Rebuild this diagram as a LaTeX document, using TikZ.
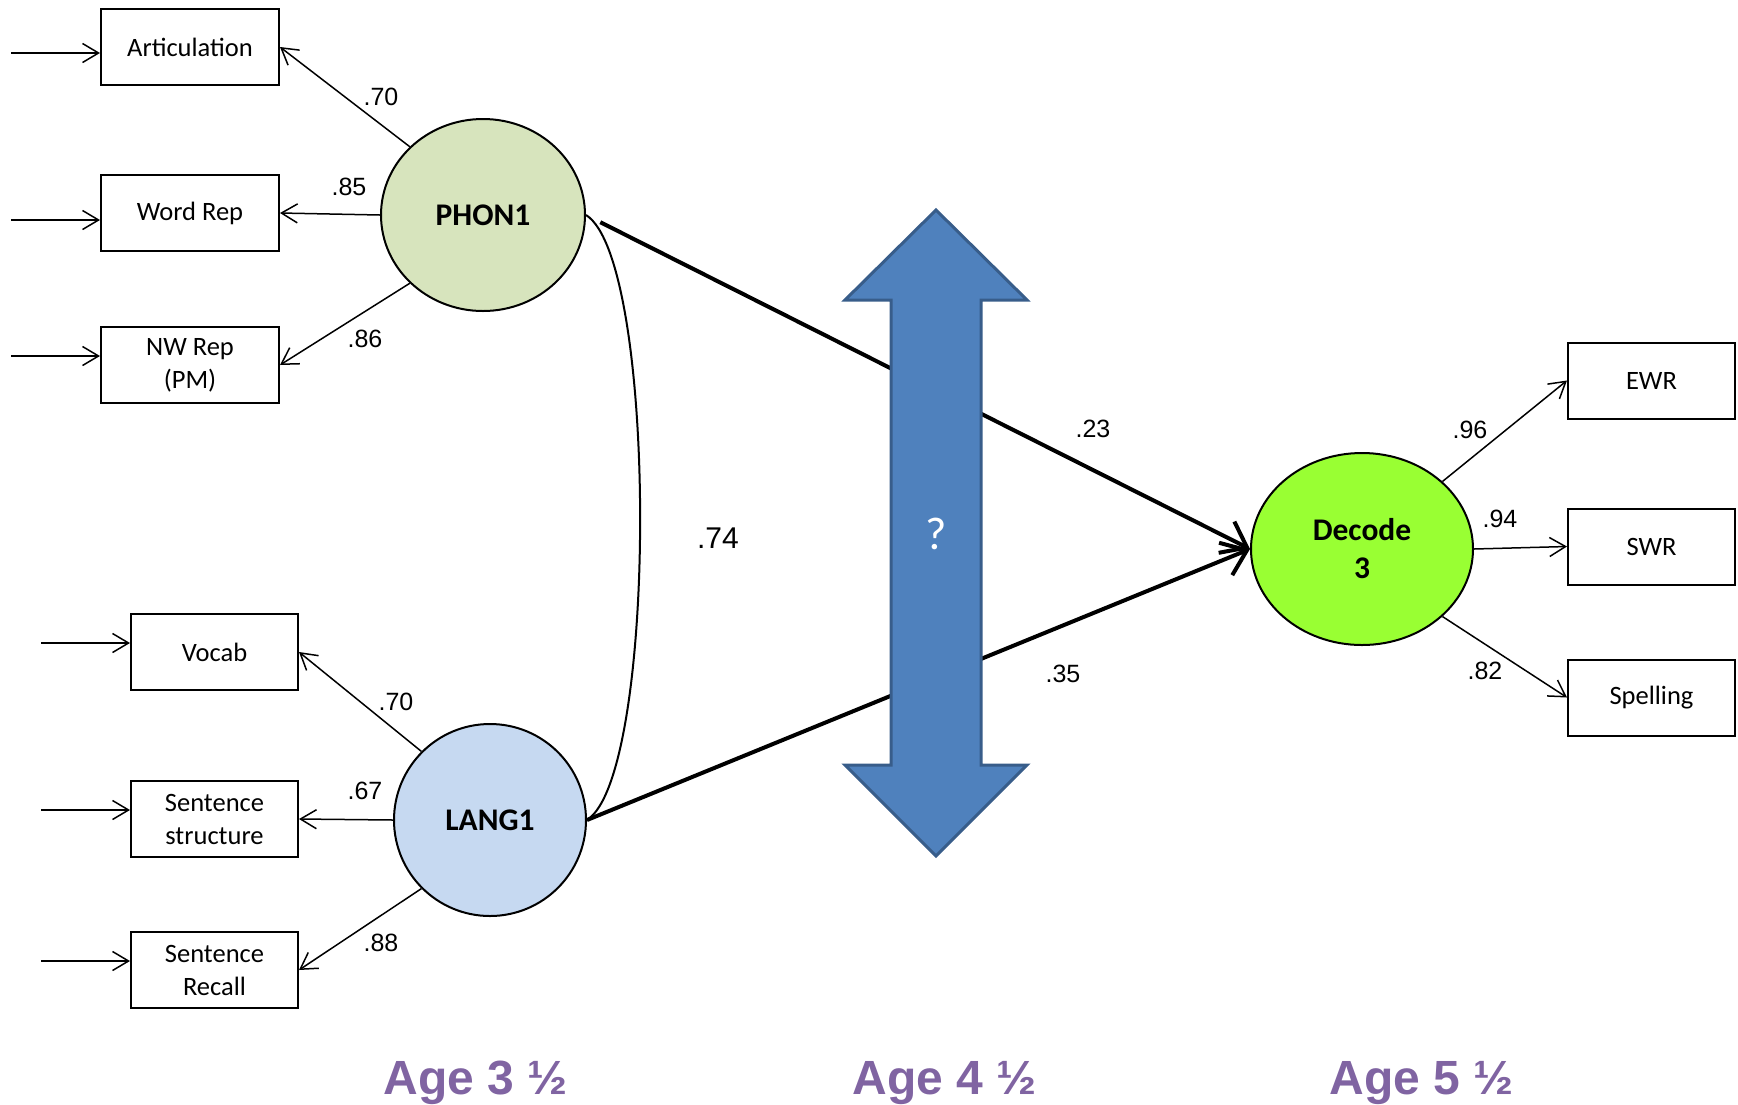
\documentclass[tikz,border=0pt]{standalone}
\usepackage{fontspec}
\setmainfont{Carlito}
\newfontfamily\numfont{Liberation Sans}
\usetikzlibrary{shapes.geometric,arrows.meta}

\definecolor{phonfill}{HTML}{D7E4BD}
\definecolor{langfill}{HTML}{C6D9F1}
\definecolor{decfill}{HTML}{99FF33}
\definecolor{arrowfill}{HTML}{4F81BD}
\definecolor{arrowedge}{HTML}{385D8A}
\definecolor{agecol}{HTML}{8064A2}

\begin{document}
\begin{tikzpicture}[x=1pt,y=-1pt,
  obs/.style={draw, line width=2pt, minimum height=76pt, inner sep=0pt, align=center,
    font=\fontsize{26.5}{33}\selectfont},
  wide/.style={obs, minimum width=178pt},
  narrow/.style={obs, minimum width=167pt},
  latent/.style={ellipse, draw, line width=2pt, inner sep=0pt, align=center,
    font=\bfseries\fontsize{31.5}{38}\selectfont},
  coef/.style={font=\numfont\fontsize{25}{30}\selectfont, inner sep=0pt},
  load/.style={line width=1.5pt, -{Straight Barb[length=16pt,width=19pt]}},
  regline/.style={line width=4pt, -{Straight Barb[length=23pt,width=35pt]}},
  age/.style={font=\numfont\bfseries\fontsize{48}{50}\selectfont, text=agecol, anchor=base}
]
\useasboundingbox (0,0) rectangle (1738,1104);

% observed indicators, age 3 1/2
\node[wide] (art) at (190,47) {Articulation};
\node[wide] (wr)  at (190,213) {Word Rep};
\node[wide] (nw)  at (190,365) {NW Rep\\(PM)};
\node[narrow] (voc) at (214.5,652) {Vocab};
\node[narrow] (ss)  at (214.5,819) {Sentence\\structure};
\node[narrow] (sr)  at (214.5,970) {Sentence\\Recall};

% observed indicators, age 5 1/2
\node[narrow] (ewr) at (1651.5,380.5) {EWR};
\node[narrow] (swr) at (1651.5,546.5) {SWR};
\node[narrow] (spl) at (1651.5,697.5) {Spelling};

% latent factors
\node[latent, fill=phonfill, minimum width=204pt, minimum height=192pt] (phon) at (483,215) {PHON1};
\node[latent, fill=langfill, minimum width=192pt, minimum height=192pt] (lang) at (490,820) {LANG1};
\node[latent, fill=decfill, minimum width=222pt, minimum height=192pt] (dec) at (1362,549) {Decode\\3};

% error terms
\coordinate (eart) at (11,53);
\coordinate (ewr0) at (11,220);
\coordinate (enw) at (11,356);
\coordinate (evoc) at (41,643);
\coordinate (ess) at (41,810);
\coordinate (esr) at (41,961);
\draw[load] (eart) -- (eart -| art.west);
\draw[load] (ewr0) -- (ewr0 -| wr.west);
\draw[load] (enw) -- (enw -| nw.west);
\draw[load] (evoc) -- (evoc -| voc.west);
\draw[load] (ess) -- (ess -| ss.west);
\draw[load] (esr) -- (esr -| sr.west);

% factor loadings
\draw[load] (phon.137) -- (art.east);
\draw[load] (phon.180) -- (wr.east);
\draw[load] (phon.223) -- (nw.east);
\draw[load] (lang.135) -- (voc.east);
\draw[load] (lang.180) -- (ss.east);
\draw[load] (lang.225) -- (sr.east);
\draw[load] (dec.40) -- (ewr.west);
\draw[load] (dec.0) -- (swr.west);
\draw[load] (dec.-40) -- (spl.west);

\node[coef] (l1) at (381,97) {.70};
\node[coef] (l2) at (349,187) {.85};
\node[coef] (l3) at (365,339) {.86};
\node[coef] (l4) at (396,702) {.70};
\node[coef] (l5) at (365,791) {.67};
\node[coef] (l6) at (381,943) {.88};
\node[coef] (l7) at (1470,430) {.96};
\node[coef] (l8) at (1500,519) {.94};
\node[coef] (l9) at (1485,671) {.82};

% factor correlation
\draw[line width=2pt] (phon.east) .. controls (658,260) and (658,775) .. (lang.east);
\node[font=\numfont\fontsize{30}{34}\selectfont, inner sep=0pt] (r) at (718,538) {.74};

% regression paths
\draw[regline, shorten <=16pt] (phon.east) -- (dec.west);
\draw[regline] (lang.east) -- (dec.west);
\node[coef] (b1) at (1093,429) {.23};
\node[coef] (b2) at (1063,674) {.35};

% intermediate time point
\draw[fill=arrowfill, draw=arrowedge, line width=3pt, line join=miter]
  (936,210) -- (1027,300) -- (981,300) -- (981,765) -- (1027,765) -- (936,856)
  -- (845,765) -- (891,765) -- (891,300) -- (845,300) -- cycle;
\node[text=white, font=\fontsize{46}{50}\selectfont, inner sep=0pt] (q) at (936,534) {?};

% ages
\node[age] (a1) at (476,1094) {Age 3 ½};
\node[age] (a2) at (945,1094) {Age 4 ½};
\node[age] (a3) at (1422,1094) {Age 5 ½};
\end{tikzpicture}
\end{document}
